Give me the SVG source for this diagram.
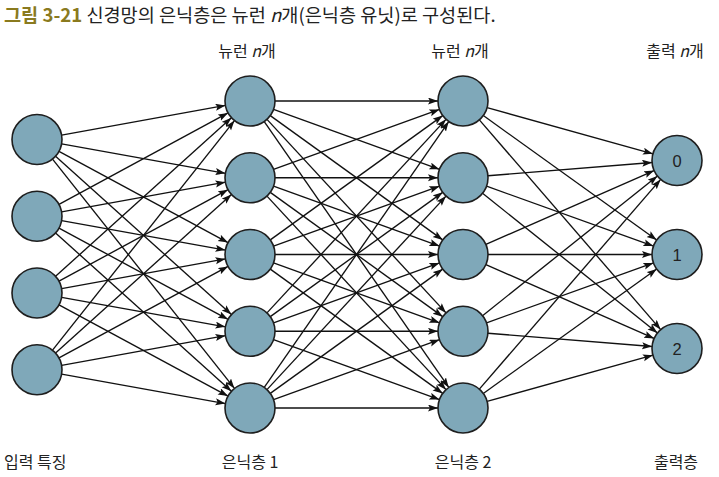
<svg xmlns="http://www.w3.org/2000/svg" width="719" height="477" viewBox="0 0 719 477">
<defs>
<marker id="ah" markerUnits="userSpaceOnUse" markerWidth="11" markerHeight="8" refX="10" refY="3.5" orient="auto" viewBox="0 0 11 8">
<path d="M0,0 L10,3.5 L0,7 L2,3.5 z" fill="#111"/>
</marker>
</defs>
<style>
.c{fill:#7fa8b9;stroke:#1e1e1e;stroke-width:1.6}
.e line{stroke:#111;stroke-width:1.35;marker-end:url(#ah)}
.t{font-family:"Noto Sans CJK KR","Noto Sans",sans-serif;fill:#222}
.lbl{font-size:16px}
.num{font-family:"Liberation Sans",Arial,sans-serif;font-size:16.5px;fill:#222;text-anchor:middle}
</style>
<rect width="719" height="477" fill="#fff"/>
<text class="t" x="4" y="22" font-size="18.6"><tspan font-weight="bold" fill="#8a7a1e">그림 3-21</tspan> 신경망의 은닉층은 뉴런 <tspan font-style="italic">n</tspan>개(은닉층 유닛)로 구성된다.</text>
<g class="t lbl">
<text x="247" y="57" text-anchor="middle">뉴런 <tspan font-style="italic">n</tspan>개</text>
<text x="460" y="57" text-anchor="middle">뉴런 <tspan font-style="italic">n</tspan>개</text>
<text x="675" y="57" text-anchor="middle">출력 <tspan font-style="italic">n</tspan>개</text>
<text x="4" y="468">입력 특징</text>
<text x="250" y="468" text-anchor="middle">은닉층 1</text>
<text x="463" y="468" text-anchor="middle">은닉층 2</text>
<text x="676" y="468" text-anchor="middle">출력층</text>
</g>
<g id="connectors" class="e">
<line x1="61.604" y1="135.067" x2="225.396" y2="105.433"/>
<line x1="61.604" y1="143.933" x2="225.396" y2="173.317"/>
<line x1="58.993" y1="151.387" x2="228.007" y2="242.613"/>
<line x1="55.575" y1="156.233" x2="231.425" y2="314.517"/>
<line x1="52.533" y1="159.089" x2="234.467" y2="388.411"/>
<line x1="58.993" y1="204.363" x2="228.007" y2="112.887"/>
<line x1="61.604" y1="211.817" x2="225.396" y2="182.183"/>
<line x1="61.604" y1="220.683" x2="225.396" y2="250.067"/>
<line x1="58.993" y1="228.137" x2="228.007" y2="319.363"/>
<line x1="55.575" y1="232.983" x2="231.425" y2="391.267"/>
<line x1="55.575" y1="276.267" x2="231.425" y2="117.733"/>
<line x1="58.993" y1="281.113" x2="228.007" y2="189.637"/>
<line x1="61.604" y1="288.567" x2="225.396" y2="258.933"/>
<line x1="61.604" y1="297.433" x2="225.396" y2="326.817"/>
<line x1="58.993" y1="304.887" x2="228.007" y2="396.113"/>
<line x1="52.533" y1="350.161" x2="234.467" y2="120.589"/>
<line x1="55.575" y1="353.017" x2="231.425" y2="194.483"/>
<line x1="58.993" y1="357.863" x2="228.007" y2="266.387"/>
<line x1="61.604" y1="365.317" x2="225.396" y2="335.683"/>
<line x1="61.604" y1="374.183" x2="225.396" y2="403.567"/>
<line x1="275" y1="101" x2="438" y2="101"/>
<line x1="273.519" y1="109.475" x2="439.481" y2="169.275"/>
<line x1="270.282" y1="115.616" x2="442.718" y2="239.884"/>
<line x1="266.977" y1="119.352" x2="446.023" y2="312.898"/>
<line x1="264.251" y1="121.540" x2="448.749" y2="387.460"/>
<line x1="273.519" y1="169.275" x2="439.481" y2="109.475"/>
<line x1="275" y1="177.75" x2="438" y2="177.75"/>
<line x1="273.519" y1="186.225" x2="439.481" y2="246.025"/>
<line x1="270.282" y1="192.366" x2="442.718" y2="316.634"/>
<line x1="266.977" y1="196.102" x2="446.023" y2="389.648"/>
<line x1="270.282" y1="239.884" x2="442.718" y2="115.616"/>
<line x1="273.519" y1="246.025" x2="439.481" y2="186.225"/>
<line x1="275" y1="254.5" x2="438" y2="254.5"/>
<line x1="273.519" y1="262.975" x2="439.481" y2="322.775"/>
<line x1="270.282" y1="269.116" x2="442.718" y2="393.384"/>
<line x1="266.977" y1="312.898" x2="446.023" y2="119.352"/>
<line x1="270.282" y1="316.634" x2="442.718" y2="192.366"/>
<line x1="273.519" y1="322.775" x2="439.481" y2="262.975"/>
<line x1="275" y1="331.25" x2="438" y2="331.25"/>
<line x1="273.519" y1="339.725" x2="439.481" y2="399.525"/>
<line x1="264.251" y1="387.460" x2="448.749" y2="121.540"/>
<line x1="266.977" y1="389.648" x2="446.023" y2="196.102"/>
<line x1="270.282" y1="393.384" x2="442.718" y2="269.116"/>
<line x1="273.519" y1="399.525" x2="439.481" y2="339.725"/>
<line x1="275" y1="408" x2="438" y2="408"/>
<line x1="487.086" y1="107.697" x2="652.914" y2="153.803"/>
<line x1="483.314" y1="115.571" x2="656.686" y2="239.929"/>
<line x1="479.351" y1="119.911" x2="660.649" y2="329.589"/>
<line x1="487.919" y1="175.741" x2="652.081" y2="162.509"/>
<line x1="486.532" y1="186.190" x2="653.468" y2="246.060"/>
<line x1="482.542" y1="193.342" x2="657.458" y2="332.908"/>
<line x1="485.889" y1="244.446" x2="654.111" y2="170.554"/>
<line x1="488" y1="254.5" x2="652" y2="254.5"/>
<line x1="485.889" y1="264.554" x2="654.111" y2="338.446"/>
<line x1="482.542" y1="315.658" x2="657.458" y2="176.092"/>
<line x1="486.532" y1="322.810" x2="653.468" y2="262.940"/>
<line x1="487.919" y1="333.259" x2="652.081" y2="346.491"/>
<line x1="479.351" y1="389.089" x2="660.649" y2="179.411"/>
<line x1="483.314" y1="393.429" x2="656.686" y2="269.071"/>
<line x1="487.086" y1="401.303" x2="652.914" y2="355.197"/>
</g>
<g id="in0"><circle class="c" cx="37" cy="139.5" r="25"/></g>
<g id="in1"><circle class="c" cx="37" cy="216.25" r="25"/></g>
<g id="in2"><circle class="c" cx="37" cy="293" r="25"/></g>
<g id="in3"><circle class="c" cx="37" cy="369.75" r="25"/></g>
<g id="h1_0"><circle class="c" cx="250" cy="101" r="25"/></g>
<g id="h1_1"><circle class="c" cx="250" cy="177.75" r="25"/></g>
<g id="h1_2"><circle class="c" cx="250" cy="254.5" r="25"/></g>
<g id="h1_3"><circle class="c" cx="250" cy="331.25" r="25"/></g>
<g id="h1_4"><circle class="c" cx="250" cy="408" r="25"/></g>
<g id="h2_0"><circle class="c" cx="463" cy="101" r="25"/></g>
<g id="h2_1"><circle class="c" cx="463" cy="177.75" r="25"/></g>
<g id="h2_2"><circle class="c" cx="463" cy="254.5" r="25"/></g>
<g id="h2_3"><circle class="c" cx="463" cy="331.25" r="25"/></g>
<g id="h2_4"><circle class="c" cx="463" cy="408" r="25"/></g>
<g id="out0"><circle class="c" cx="677" cy="160.5" r="25"/><text class="num" x="677" y="166.5">0</text></g>
<g id="out1"><circle class="c" cx="677" cy="254.5" r="25"/><text class="num" x="677" y="260.5">1</text></g>
<g id="out2"><circle class="c" cx="677" cy="348.5" r="25"/><text class="num" x="677" y="354.5">2</text></g>
</svg>
